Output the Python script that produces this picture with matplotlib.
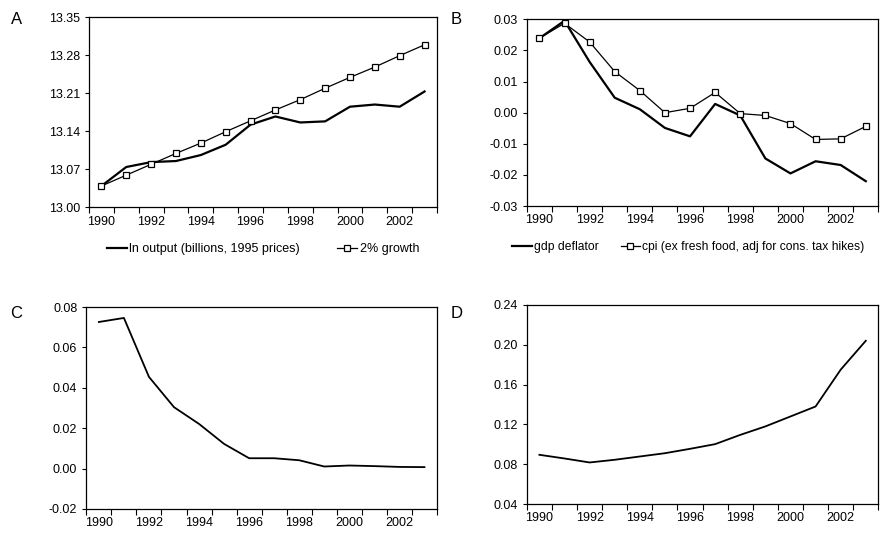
import numpy as np
import matplotlib.pyplot as plt

years = list(range(1990, 2004))

# panel A
ln_output = [13.039, 13.074, 13.083, 13.085, 13.096, 13.115, 13.152, 13.167,
             13.156, 13.158, 13.185, 13.189, 13.185, 13.213]
growth_2pct = [13.039, 13.059, 13.079, 13.099, 13.118, 13.139, 13.159, 13.179,
               13.198, 13.219, 13.239, 13.258, 13.279, 13.299]

# panel B
gdp_deflator = [0.0239, 0.0295, 0.0163, 0.0048, 0.0011, -0.0049, -0.0076, 0.0028,
                -0.0009, -0.0147, -0.0195, -0.0156, -0.0168, -0.0220]
cpi = [0.0239, 0.0287, 0.0227, 0.0132, 0.0071, 0.0000, 0.0014, 0.0065,
       -0.0003, -0.0009, -0.0035, -0.0086, -0.0084, -0.0044]

# panel C
series_c = [0.0726, 0.0746, 0.0454, 0.0304, 0.0221, 0.0122, 0.0051, 0.0051,
            0.0041, 0.0010, 0.0015, 0.0012, 0.0008, 0.0007]

# panel D
series_d = [0.0895, 0.0858, 0.0818, 0.0845, 0.0878, 0.0911, 0.0955, 0.1002,
            0.1095, 0.1180, 0.1280, 0.1380, 0.1750, 0.2040]

plt.rcParams['font.family'] = ['Liberation Sans', 'DejaVu Sans']
plt.rcParams['font.size'] = 9

fig = plt.figure(figsize=(8.81, 5.34), dpi=100)

def setup(ax, ylim, yticks, fmt):
    x = np.arange(len(years))
    ax.set_xlim(-0.5, len(years) - 0.5)
    ax.set_xticks(np.arange(-0.5, len(years), 1.0))
    ax.set_xticklabels([])
    ax.tick_params(axis='x', which='major', direction='out', length=4, width=0.8)
    ax.set_xticks(x[::2], minor=True)
    ax.set_xticklabels([str(y) for y in years[::2]], minor=True)
    ax.tick_params(axis='x', which='minor', length=0, pad=6)
    ax.set_ylim(*ylim)
    ax.set_yticks(yticks)
    ax.set_yticklabels([fmt.format(v) for v in yticks])
    ax.tick_params(axis='y', direction='out', length=3, width=0.8)
    for s in ax.spines.values():
        s.set_linewidth(0.9)
    return x

# A
axA = fig.add_axes([0.101, 0.612, 0.395, 0.356])
x = setup(axA, (13.00, 13.35), [13.00, 13.07, 13.14, 13.21, 13.28, 13.35], '{:.2f}')
axA.plot(x, ln_output, color='black', lw=1.6, label='ln output (billions, 1995 prices)')
axA.plot(x, growth_2pct, color='black', lw=0.9, marker='s', ms=4.5, mfc='white',
         mew=0.9, label='2% growth')
axA.legend(loc='upper center', bbox_to_anchor=(0.5, -0.13), ncol=2, frameon=False,
           handlelength=1.6, handletextpad=0.2, columnspacing=3.0, fontsize=9)
fig.text(0.012, 0.955, 'A', fontsize=12)

# B
axB = fig.add_axes([0.598, 0.614, 0.399, 0.350])
x = setup(axB, (-0.03, 0.03), [-0.03, -0.02, -0.01, 0.0, 0.01, 0.02, 0.03], '{:.2f}')
axB.plot(x, gdp_deflator, color='black', lw=1.6, label='gdp deflator')
axB.plot(x, cpi, color='black', lw=0.9, marker='s', ms=4.5, mfc='white', mew=0.9,
         label='cpi (ex fresh food, adj for cons. tax hikes)')
axB.legend(loc='upper center', bbox_to_anchor=(0.46, -0.13), ncol=2, frameon=False,
           handlelength=1.6, handletextpad=0.2, columnspacing=1.8, fontsize=8.7)
fig.text(0.512, 0.955, 'B', fontsize=12)

# C
axC = fig.add_axes([0.098, 0.047, 0.398, 0.378])
x = setup(axC, (-0.02, 0.08), [-0.02, 0.0, 0.02, 0.04, 0.06, 0.08], '{:.2f}')
axC.plot(x, series_c, color='black', lw=1.3)
fig.text(0.012, 0.405, 'C', fontsize=12)

# D
axD = fig.add_axes([0.598, 0.056, 0.399, 0.373])
x = setup(axD, (0.04, 0.24), [0.04, 0.08, 0.12, 0.16, 0.20, 0.24], '{:.2f}')
axD.plot(x, series_d, color='black', lw=1.3)
fig.text(0.512, 0.405, 'D', fontsize=12)

fig.savefig('out.png', dpi=100)
